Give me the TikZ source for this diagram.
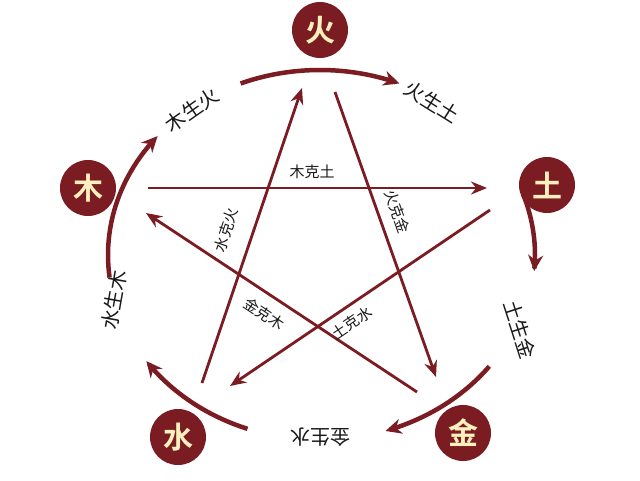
\documentclass[tikz,border=0pt]{standalone}
\usepackage{fontspec}
\newfontfamily\cjk{Noto Sans CJK SC}
\newfontfamily\cjkb{Noto Sans CJK SC Bold}
\usetikzlibrary{arrows.meta}
\definecolor{wine}{HTML}{7A1C22}
\definecolor{cream}{HTML}{FBF0BE}
\begin{document}
\begin{tikzpicture}[x=1pt,y=-1pt,
  elem/.style={circle,fill=wine,minimum size=56pt,inner sep=0pt,text=cream,font=\cjkb\fontsize{30}{30}\selectfont},
  lbl/.style={text=black!90,font=\cjk\fontsize{20}{20}\selectfont,inner sep=0pt},
  slbl/.style={text=black!90,font=\cjk\fontsize{15}{15}\selectfont,inner sep=0pt},
  cyc/.style={wine,line width=4.5pt,-{Stealth[length=16pt,width=15pt]}},
  star/.style={wine,line width=2.8pt,-{Stealth[length=16pt,width=13pt]}}]
\useasboundingbox (0,0) rectangle (640,480);
\fill[white] (0,0) rectangle (640,480);
\node[elem] (huo) at (320,30) {火};
\node[elem] (tu) at (547,185) {土};
\node[elem] (jin) at (463,433) {金};
\node[elem] (shui) at (178,437) {水};
\node[elem] (mu) at (88,188) {木};
% cycle arcs
\draw[cyc,domain=112:68,samples=40] plot ({320+212*cos(\x)},{255-185*sin(\x)});
\draw[cyc,domain=19:-5,samples=30] plot ({320+215*cos(\x)},{255-185*sin(\x)});
\draw[cyc,domain=-37:-72,samples=30] plot ({320+212*cos(\x)},{255-185*sin(\x)});
\draw[cyc,domain=-110:-145,samples=30] plot ({320+212*cos(\x)},{255-185*sin(\x)});
\draw[cyc,domain=187:140,samples=30] plot ({320+212*cos(\x)},{255-185*sin(\x)});
\node[lbl,rotate=35] (l1) at (192,110) {木生火};
\node[lbl,rotate=-32] (l2) at (432,102) {火生土};
\node[lbl,rotate=-72] (l3) at (520,330) {土生金};
\node[lbl,rotate=180] (l4) at (320,437) {金生水};
\node[lbl,rotate=80] (l5) at (114,300) {水生木};
% star
\coordinate (a1) at (148,188); \coordinate (a2) at (487,188);
\coordinate (b1) at (417,392); \coordinate (b2) at (146,213);
\coordinate (c1) at (490,210); \coordinate (c2) at (230,386);
\coordinate (d1) at (202,383); \coordinate (d2) at (302,88);
\coordinate (e1) at (335,92); \coordinate (e2) at (436,377);
\draw[star] (a1) -- (a2);
\draw[star] (b1) -- (b2);
\draw[star] (c1) -- (c2);
\draw[star] (d1) -- (d2);
\draw[star] (e1) -- (e2);
\node[slbl] (s1) at (312,172) {木克土};
\node[slbl,rotate=-33.6] (s2) at (264,314) {金克木};
\node[slbl,rotate=34] (s3) at (352,323) {土克水};
\node[slbl,rotate=71.5] (s4) at (226,230) {水克火};
\node[slbl,rotate=-70.5] (s5) at (397,212) {火克金};
\end{tikzpicture}
\end{document}
